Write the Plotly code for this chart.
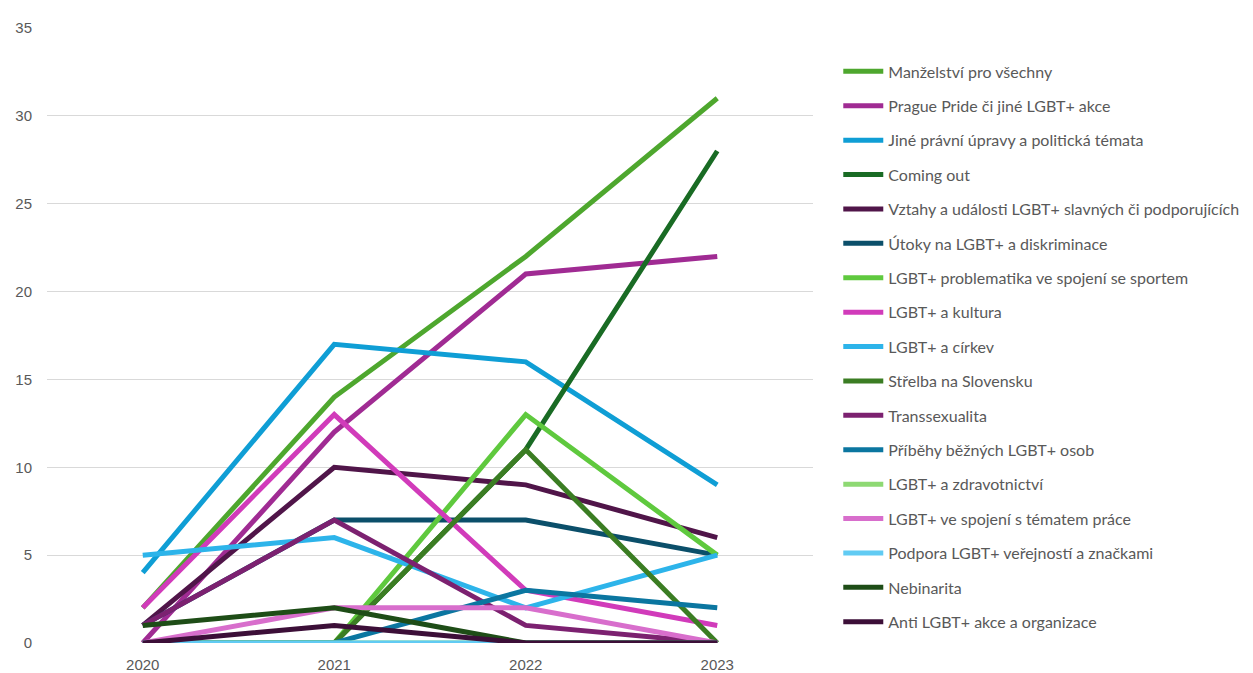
import plotly.graph_objects as go

years = ["2020", "2021", "2022", "2023"]

topics = [
    "Manželství pro všechny",
    "Prague Pride či jiné LGBT+ akce",
    "Jiné právní úpravy a politická témata",
    "Coming out",
    "Vztahy a události LGBT+ slavných či podporujících",
    "Útoky na LGBT+ a diskriminace",
    "LGBT+ problematika ve spojení se sportem",
    "LGBT+ a kultura",
    "LGBT+ a církev",
    "Střelba na Slovensku",
    "Transsexualita",
    "Příběhy běžných LGBT+ osob",
    "LGBT+ a zdravotnictví",
    "LGBT+ ve spojení s tématem práce",
    "Podpora LGBT+ veřejností a značkami",
    "Nebinarita",
    "Anti LGBT+ akce a organizace",
]

manzelstvi = [2, 14, 22, 31]
prague_pride = [0, 12, 21, 22]
pravni_upravy = [4, 17, 16, 9]
coming_out = [0, 0, 11, 28]
vztahy_slavnych = [1, 10, 9, 6]
utoky = [1, 7, 7, 5]
sport = [0, 0, 13, 5]
kultura = [2, 13, 3, 1]
cirkev = [5, 6, 2, 5]
strelba = [0, 0, 11, 0]
transsexualita = [1, 7, 1, 0]
pribehy = [0, 0, 3, 2]
zdravotnictvi = [0, 0, 0, 0]
prace = [0, 2, 2, 0]
podpora = [0, 0, 0, 0]
nebinarita = [1, 2, 0, 0]
anti_lgbt = [0, 1, 0, 0]

series = [manzelstvi, prague_pride, pravni_upravy, coming_out, vztahy_slavnych,
          utoky, sport, kultura, cirkev, strelba, transsexualita, pribehy,
          zdravotnictvi, prace, podpora, nebinarita, anti_lgbt]

colors = ["#4EA72E", "#A02B93", "#0F9ED5", "#196B24", "#501549",
          "#0B4F6A", "#5FC93E", "#D13BBA", "#2DB4EA", "#3B7D23",
          "#7C2170", "#0B76A0", "#8ED973", "#D86ECC", "#61CBF3",
          "#1E4D17", "#3C0F38"]

fig = go.Figure()
for i, (name, vals) in enumerate(zip(topics, series)):
    fig.add_trace(go.Scatter(
        x=years, y=vals, name=name, mode="lines",
        line=dict(color=colors[i], width=5),
        legendgroup=f"g{i}",
    ))

# page body adds an 8px margin; the legend must not push the plot area (autoexpand off)
fig.update_layout(
    width=1245, height=665,
    margin=dict(l=39, r=440, t=20, b=30, autoexpand=False),
    paper_bgcolor="white", plot_bgcolor="white",
    font=dict(family="Lato, Noto Sans, sans-serif", size=16, color="#595959"),
    showlegend=True,
    legend=dict(
        x=1.033, xanchor="left", y=0.957, yanchor="top",
        font=dict(size=16, color="#595959"),
        tracegroupgap=10.6, itemwidth=40,
        bgcolor="rgba(0,0,0,0)",
    ),
)
fig.update_xaxes(
    type="category", range=[-0.5, 3.5],
    showgrid=False, showline=False, zeroline=False, ticks="",
    tickfont=dict(family="Liberation Sans, Arial, sans-serif", size=15, color="#595959"),
    ticklabelstandoff=11, automargin=False,
)
fig.update_yaxes(
    range=[0, 35], dtick=5, showgrid=True, gridcolor="#D9D9D9", gridwidth=1,
    zeroline=False, showline=False, ticks="",
    tickfont=dict(family="Liberation Sans, Arial, sans-serif", size=15, color="#595959"),
    ticklabelstandoff=14, automargin=False,
)

fig.write_html("out.html")
